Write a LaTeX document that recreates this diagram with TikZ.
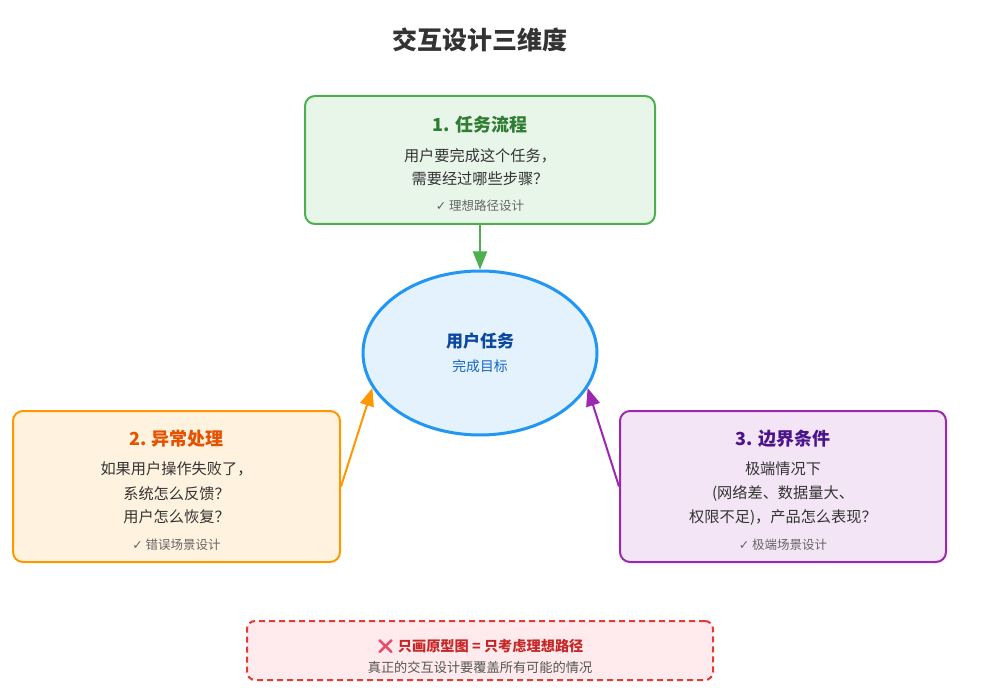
\documentclass[tikz,border=0pt]{standalone}
\usepackage{fontspec}
\setmainfont{Noto Sans CJK SC}
\newfontfamily\djv{DejaVu Sans}
\newfontfamily\emo{Noto Emoji}
\usetikzlibrary{shapes.geometric,arrows.meta}
\definecolor{tgray}{HTML}{333333}
\definecolor{sgray}{HTML}{666666}
\definecolor{gfill}{HTML}{E8F5E9}\definecolor{gline}{HTML}{4CAF50}\definecolor{gtext}{HTML}{2E7D32}
\definecolor{ofill}{HTML}{FFF3E0}\definecolor{oline}{HTML}{FF9800}\definecolor{otext}{HTML}{E65100}
\definecolor{pfill}{HTML}{F3E5F5}\definecolor{pline}{HTML}{9C27B0}\definecolor{ptext}{HTML}{4A148C}
\definecolor{bfill}{HTML}{E3F2FD}\definecolor{bline}{HTML}{2196F3}\definecolor{btext}{HTML}{0D47A1}\definecolor{btext2}{HTML}{1565C0}
\definecolor{rfill}{HTML}{FFEBEE}\definecolor{rline}{HTML}{E53935}\definecolor{rtext}{HTML}{C62828}\definecolor{rsub}{HTML}{555555}
\definecolor{xmark}{HTML}{E84C6A}
\tikzset{
  card/.style={draw, rounded corners=10pt, line width=2pt, inner sep=0pt},
  cardtitle/.style={font=\fontsize{18}{21}\selectfont\bfseries, inner sep=0pt},
  cardline/.style={font=\fontsize{15.2}{18}\selectfont, text=tgray, inner sep=0pt},
  cardnote/.style={font=\fontsize{12.5}{15}\selectfont, text=sgray, inner sep=0pt},
  conn/.style={line width=2pt, -{Triangle[length=18pt,width=14pt]}},
}
\begin{document}
\begin{tikzpicture}[x=1pt,y=-1pt]
\useasboundingbox[fill=white] (0,0) rectangle (1001,692);
% title
\node[font=\fontsize{25}{30}\selectfont\bfseries, text=tgray, inner sep=0pt] (title) at (480,40) {交互设计三维度};
% green card
\node[card, fill=gfill, draw=gline, minimum width=350pt, minimum height=128pt] (g) at (480,160) {};
\node[cardtitle, text=gtext] (gt) at (480,125) {1. 任务流程};
\node[cardline] (g1) at (480,156) {用户要完成这个任务，};
\node[cardline] (g2) at (480,179) {需要经过哪些步骤？};
\node[cardnote] (g3) at (480,206) {{\djv ✓} 理想路径设计};
% center ellipse
\node[ellipse, draw=bline, fill=bfill, line width=3pt, minimum width=234pt, minimum height=164pt, inner sep=0pt] (u) at (480,353) {};
\node[font=\fontsize{17}{20}\selectfont\bfseries, text=btext, inner sep=0pt] (ut) at (480,341) {用户任务};
\node[font=\fontsize{13.8}{16}\selectfont, text=btext2, inner sep=0pt] (us) at (480,366) {完成目标};
% orange card
\node[card, fill=ofill, draw=oline, minimum width=327pt, minimum height=151pt] (o) at (176.5,486.5) {};
\node[cardtitle, text=otext] (ot) at (176.5,439) {2. 异常处理};
\node[cardline] (o1) at (176.5,469) {如果用户操作失败了，};
\node[cardline] (o2) at (176.5,494) {系统怎么反馈？};
\node[cardline] (o3) at (176.5,517) {用户怎么恢复？};
\node[cardnote] (o4) at (176.5,545) {{\djv ✓} 错误场景设计};
% purple card
\node[card, fill=pfill, draw=pline, minimum width=326pt, minimum height=151pt] (p) at (783,486.5) {};
\node[cardtitle, text=ptext] (pt) at (783,439) {3. 边界条件};
\node[cardline] (p1) at (783,469) {极端情况下};
\node[cardline] (p2) at (783,494) {(网络差、数据量大、};
\node[cardline] (p3) at (783,518) {权限不足)，产品怎么表现？};
\node[cardnote] (p4) at (783,545) {{\djv ✓} 极端场景设计};
% connectors
\draw[conn, gline] (g.south) -- (u.north);
\draw[conn, oline] (o.east) -- (u.198);
\draw[conn, pline] (p.west) -- (u.-18);
% bottom warning
\node[draw=rline, fill=rfill, dashed, dash pattern=on 6pt off 4pt, line width=2pt, rounded corners=8pt, minimum width=466pt, minimum height=59pt, inner sep=0pt] (w) at (480,650.5) {};
\node[font=\fontsize{14.2}{17}\selectfont\bfseries, text=rtext, inner sep=0pt] (wt) at (480,646) {{\emo\color{xmark}❌} 只画原型图 = 只考虑理想路径};
\node[font=\fontsize{13.2}{15}\selectfont, text=rsub, inner sep=0pt] (ws) at (480,667) {真正的交互设计要覆盖所有可能的情况};
\end{tikzpicture}
\end{document}
